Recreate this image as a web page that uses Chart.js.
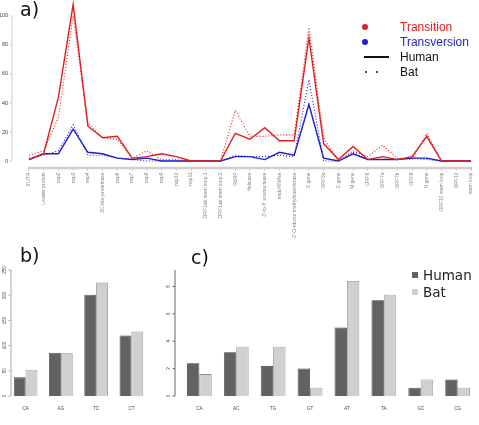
<!DOCTYPE html>
<html>
<head>
<meta charset="utf-8">
<script src="https://cdn.jsdelivr.net/npm/chart.js@4"></script>
<style>
  body { margin: 0; background: #fff; width: 479px; height: 425px; position: relative; overflow: hidden; font-family: 'DejaVu Sans', sans-serif; }
  canvas { position: absolute; }
  .tag { position: absolute; font-size: 19px; line-height: 1; color: #111; }
  .lg { position: absolute; font-family: 'Liberation Sans', Arial, sans-serif; font-size: 12px; line-height: 12px; white-space: nowrap; }
  .lgc { position: absolute; font-size: 13.5px; line-height: 14px; color: #222; white-space: nowrap; }
  .dot { position: absolute; border-radius: 50%; }
  .sq { position: absolute; width: 6px; height: 6px; }
</style>
</head>
<body>
<canvas id="chartA" width="479" height="242" style="left:0;top:0"></canvas>
<canvas id="chartB" width="155" height="150" style="left:0;top:262px"></canvas>
<canvas id="chartC" width="319" height="150" style="left:160px;top:262px"></canvas>

<div class="tag" style="left:20px;top:0px">a)</div>
<div class="tag" style="left:20px;top:246px">b)</div>
<div class="tag" style="left:191px;top:248px">c)</div>

<!-- legend of panel a -->
<div class="dot" style="left:362px;top:24px;width:6px;height:6px;background:#e01e1e"></div>
<div class="lg" style="left:400px;top:21px;color:#e01e1e">Transition</div>
<div class="dot" style="left:362px;top:39px;width:6px;height:6px;background:#1e1ed2"></div>
<div class="lg" style="left:400px;top:36px;color:#1e1ed2">Transversion</div>
<div style="position:absolute;left:364px;top:56px;width:25px;height:2px;background:#111"></div>
<div class="lg" style="left:400px;top:51px;color:#111">Human</div>
<div class="dot" style="left:365px;top:71px;width:2px;height:2px;background:#111"></div>
<div class="dot" style="left:376px;top:71px;width:2px;height:2px;background:#111"></div>
<div class="lg" style="left:400px;top:66px;color:#111">Bat</div>

<!-- legend of panel c -->
<div class="sq" style="left:412px;top:272px;background:#626262"></div>
<div class="lgc" style="left:423px;top:268px">Human</div>
<div class="sq" style="left:412px;top:289px;background:#d0d0d0"></div>
<div class="lgc" style="left:423px;top:285px">Bat</div>

<script>
// panel a: mutations along the genome
const categories = ["5'UTR", "Leader protein", "nsp2", "nsp3", "nsp4", "3C-like proteinase", "nsp6", "nsp7", "nsp8", "nsp9",
  "nsp10", "nsp11", "ORF1ab stem loop 1", "ORF1ab stem loop 2", "RdRP", "Helicase", "3'-to-5' exonuclease", "endoRNAse",
  "2'-O-ribose methyltransferase", "S gene", "ORF3a", "E gene", "M gene", "ORF6", "ORF7a", "ORF7b", "ORF8", "N gene",
  "ORF10 stem loop", "ORF10", "stem loop"];
const humanTransition   = [1, 5, 44, 108, 24, 16, 17, 2, 3, 5, 3, 0, 0, 0, 19, 15, 23, 14, 14, 85, 12, 1, 10, 1, 3, 1, 3, 17, 0, 0, 0];
const batTransition     = [4, 7, 30, 100, 26, 16, 15, 2, 7, 1, 1, 0, 0, 0, 35, 17, 17, 18, 18, 92, 16, 0, 7, 3, 11, 2, 1, 19, 0, 0, 0];
const humanTransversion = [1, 5, 5, 22, 6, 5, 2, 1, 2, 0, 0, 0, 0, 0, 3, 3, 1, 6, 4, 39, 2, 0, 5, 1, 1, 1, 2, 2, 0, 0, 0];
const batTransversion   = [2, 4, 7, 25, 4, 4, 2, 1, 0, 0, 0, 0, 0, 0, 4, 3, 3, 4, 3, 56, 0, 0, 6, 1, 1, 1, 2, 1, 0, 0, 0];
const lineTicks = [0, 20, 40, 60, 80, 100];

// panel b: transitions
const transCats = ['CA', 'AG', 'TC', 'CT'];
const transHuman = [37, 86, 201, 120];
const transBat = [52, 85, 225, 128];
const transTicks = [0, 50, 100, 150, 200, 250];

// panel c: transversions
const tvCats = ['CA', 'AC', 'TG', 'GT', 'AT', 'TA', 'GC', 'CG'];
const tvHuman = [2.4, 3.2, 2.2, 2.0, 5.0, 7.0, 0.6, 1.2];
const tvBat = [1.6, 3.6, 3.6, 0.6, 8.4, 7.4, 1.2, 0.6];
const tvTicks = [0, 2, 4, 6, 8];

const RED = '#e01e1e';
const BLUE = '#1e1ed2';

// R-style axes: line only over the tick range, tiny labels
const rAxis = {
  id: 'rAxis',
  afterDraw(chart, args, o) {
    const ctx = chart.ctx;
    const area = chart.chartArea;
    const ys = chart.scales.y;
    const x = area.left - o.gap;
    ctx.save();
    ctx.strokeStyle = o.color;
    ctx.lineWidth = 1;
    ctx.beginPath();
    ctx.moveTo(x, ys.getPixelForValue(o.ticks[0]));
    ctx.lineTo(x, ys.getPixelForValue(o.top !== undefined ? o.top : o.ticks[o.ticks.length - 1]));
    o.ticks.forEach(v => {
      const y = ys.getPixelForValue(v);
      ctx.moveTo(x, y);
      ctx.lineTo(x - o.tick, y);
    });
    ctx.stroke();
    ctx.fillStyle = o.labelColor;
    ctx.font = o.font;
    o.ticks.forEach(v => {
      const y = ys.getPixelForValue(v);
      if (o.rotate) {
        ctx.save();
        ctx.translate(x - o.tick - 1.5, y);
        ctx.rotate(-Math.PI / 2);
        ctx.textAlign = 'center';
        ctx.textBaseline = 'bottom';
        ctx.fillText(String(v), 0, 0);
        ctx.restore();
      } else {
        ctx.textAlign = 'right';
        ctx.textBaseline = 'middle';
        ctx.fillText(String(v), x - o.tick - 1.5, y);
      }
    });
    if (o.xLine) {
      const xs = chart.scales.x;
      ctx.strokeStyle = o.xLine;
      ctx.lineWidth = 2.5;
      ctx.beginPath();
      ctx.moveTo(xs.getPixelForValue(0), area.bottom + 0.5);
      ctx.lineTo(xs.getPixelForValue(categories.length - 1), area.bottom + 0.5);
      ctx.stroke();
    }
    ctx.restore();
  }
};

function series(vals, color, dotted) {
  return {
    data: vals.map((v, i) => ({ x: i, y: v })),
    borderColor: color,
    borderWidth: dotted ? 1.1 : 1.4,
    borderDash: dotted ? [1, 2] : [],
    pointRadius: 0,
    tension: 0,
    fill: false
  };
}

new Chart(document.getElementById('chartA'), {
  type: 'line',
  data: {
    datasets: [
      series(humanTransition, RED, false),
      series(batTransition, RED, true),
      series(humanTransversion, BLUE, false),
      series(batTransversion, BLUE, true)
    ]
  },
  options: {
    responsive: false,
    animation: false,
    layout: { padding: 0 },
    plugins: {
      legend: { display: false },
      tooltip: { enabled: false },
      rAxis: { ticks: lineTicks, gap: 0, tick: 2.5, color: '#cfcfcf', labelColor: '#444', font: '5.5px "Liberation Sans"', rotate: false, xLine: '#cfcfcf' }
    },
    scales: {
      x: {
        type: 'linear',
        min: -1.15,
        max: 30.2,
        afterBuildTicks: s => { s.ticks = categories.map((c, i) => ({ value: i })); },
        afterFit: s => { s.height = 74.6; },
        ticks: {
          autoSkip: false, minRotation: 90, maxRotation: 90, padding: 2,
          font: { size: 5, family: 'Liberation Sans' }, color: '#888',
          callback: v => categories[v]
        },
        grid: { display: true, drawOnChartArea: false, tickLength: 3, color: '#bdbdbd' },
        border: { display: false }
      },
      y: {
        min: -4.4,
        max: 111,
        afterFit: s => { s.width = 12; },
        ticks: { display: false },
        grid: { display: false },
        border: { display: false }
      }
    }
  },
  plugins: [rAxis]
});

function barChart(id, cats, human, bat, yMax, ticks, leftW, padR, gap, axisColor) {
  return new Chart(document.getElementById(id), {
    type: 'bar',
    data: {
      labels: cats,
      datasets: [
        { label: 'Human', data: human, backgroundColor: '#626262', borderColor: '#3c3c3c', borderWidth: 0.8, barPercentage: 1, categoryPercentage: 0.67 },
        { label: 'Bat', data: bat, backgroundColor: '#d0d0d0', borderColor: '#8c8c8c', borderWidth: 0.8, barPercentage: 1, categoryPercentage: 0.67 }
      ]
    },
    options: {
      responsive: false,
      animation: false,
      layout: { padding: { top: 8, right: padR } },
      plugins: {
        legend: { display: false },
        tooltip: { enabled: false },
        rAxis: { ticks: ticks, top: yMax, gap: gap, tick: 2.5, color: axisColor, labelColor: '#444', font: '4.5px "Liberation Sans"', rotate: true }
      },
      scales: {
        x: {
          afterFit: s => { s.height = 16; },
          ticks: { padding: 2, font: { size: 4.5, family: 'Liberation Sans' }, color: '#444' },
          grid: { display: false },
          border: { display: false }
        },
        y: {
          min: 0,
          max: yMax,
          afterFit: s => { s.width = leftW; },
          ticks: { display: false },
          grid: { display: false },
          border: { display: false }
        }
      }
    },
    plugins: [rAxis]
  });
}

barChart('chartB', transCats, transHuman, transBat, 250, transTicks, 8, 6, -3, '#aaa');
barChart('chartC', tvCats, tvHuman, tvBat, 9.2, tvTicks, 20.9, 2.9, 5.9, '#666');
</script>
</body>
</html>
